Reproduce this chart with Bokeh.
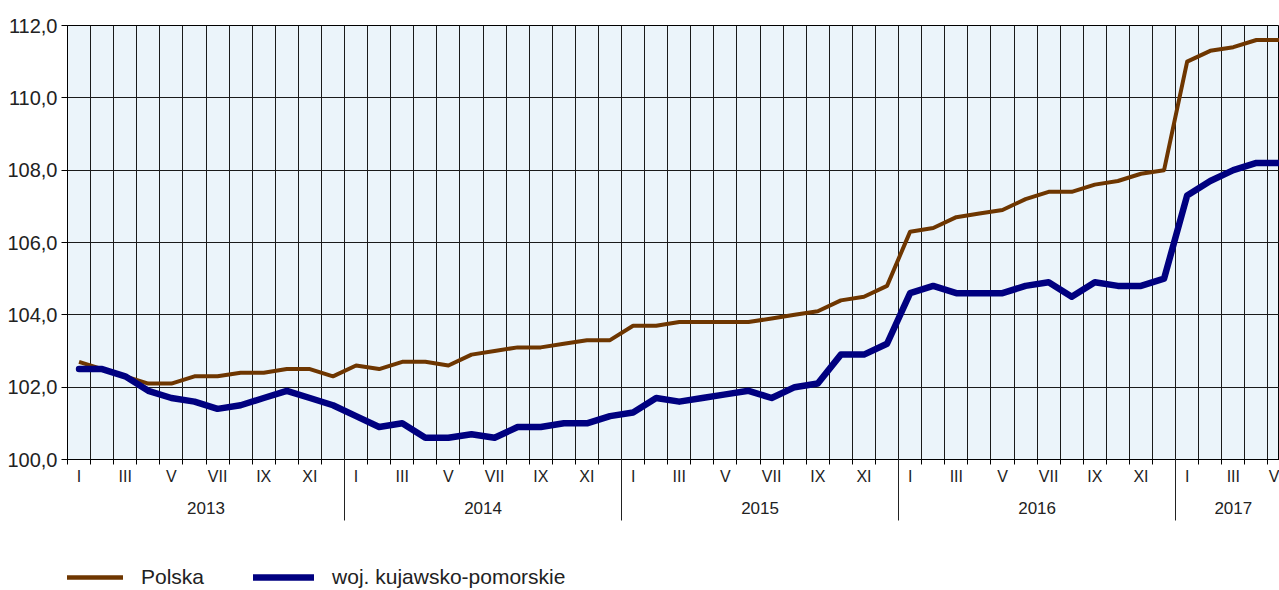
from bokeh.plotting import figure
from bokeh.layouts import column
from bokeh.models import (Range1d, FixedTicker, LinearAxis, Legend, LegendItem,
                          ColumnDataSource, Grid)
from bokeh.embed import file_html
from bokeh.resources import INLINE

# ---------------- data ----------------
years = ["2013", "2014", "2015", "2016", "2017"]
months_per_year = [12, 12, 12, 12, 5]
roman = ["I", "II", "III", "IV", "V", "VI", "VII", "VIII", "IX", "X", "XI", "XII"]

polska = [
    102.7, 102.5, 102.3, 102.1, 102.1, 102.3, 102.3, 102.4, 102.4, 102.5, 102.5, 102.3,
    102.6, 102.5, 102.7, 102.7, 102.6, 102.9, 103.0, 103.1, 103.1, 103.2, 103.3, 103.3,
    103.7, 103.7, 103.8, 103.8, 103.8, 103.8, 103.9, 104.0, 104.1, 104.4, 104.5, 104.8,
    106.3, 106.4, 106.7, 106.8, 106.9, 107.2, 107.4, 107.4, 107.6, 107.7, 107.9, 108.0,
    111.0, 111.3, 111.4, 111.6, 111.6,
]
kujawsko = [
    102.5, 102.5, 102.3, 101.9, 101.7, 101.6, 101.4, 101.5, 101.7, 101.9, 101.7, 101.5,
    101.2, 100.9, 101.0, 100.6, 100.6, 100.7, 100.6, 100.9, 100.9, 101.0, 101.0, 101.2,
    101.3, 101.7, 101.6, 101.7, 101.8, 101.9, 101.7, 102.0, 102.1, 102.9, 102.9, 103.2,
    104.6, 104.8, 104.6, 104.6, 104.6, 104.8, 104.9, 104.5, 104.9, 104.8, 104.8, 105.0,
    107.3, 107.7, 108.0, 108.2, 108.2,
]
y_ticks = [100, 102, 104, 106, 108, 110, 112]
series_names = ["Polska", "woj. kujawsko-pomorskie"]
series_colors = ["#6e3600", "#000080"]

# ---------------- derived positions ----------------
n = len(polska)
x = [i + 0.5 for i in range(n)]  # month centres
month_labels = {}
for yi, cnt in enumerate(months_per_year):
    start = sum(months_per_year[:yi])
    for m in range(0, cnt, 2):
        month_labels[start + m + 0.5] = roman[m]
year_bounds = [sum(months_per_year[:k]) for k in range(1, len(years))]
year_centres = {}
for yi, cnt in enumerate(months_per_year):
    start = sum(months_per_year[:yi])
    year_centres[start + cnt / 2] = years[yi]

FONT = "Liberation Sans"
TXT = "#222222"
GRID = "#1a1a1a"

p = figure(width=1279, height=540, output_backend="svg", toolbar_location=None,
           x_range=Range1d(0, n - 0.5), y_range=Range1d(100, 112),
           min_border_left=67, min_border_right=0, min_border_top=25,
           min_border_bottom=81, x_axis_type=None, y_axis_type=None)
p.background_fill_color = "#ebf4fa"
p.border_fill_color = "white"
p.outline_line_color = "black"
p.outline_line_width = 1

# y axis
yax = LinearAxis(ticker=FixedTicker(ticks=y_ticks),
                 major_label_overrides={v: f"{v:.1f}".replace(".", ",") for v in y_ticks})
yax.major_tick_out = 6
yax.major_tick_in = 0
yax.minor_tick_out = 0
yax.minor_tick_in = 0
yax.major_label_standoff = 4
yax.major_label_text_font = FONT
yax.major_label_text_font_size = "20px"
yax.major_label_text_color = TXT
yax.axis_line_color = "black"
yax.major_tick_line_color = "black"
p.add_layout(yax, "left")

# x axis 1: month labels + month ticks
xax = LinearAxis(ticker=FixedTicker(ticks=list(month_labels.keys()),
                                    minor_ticks=list(range(0, n))),
                 major_label_overrides=month_labels)
xax.major_tick_out = 0
xax.major_tick_in = 0
xax.minor_tick_out = 5
xax.minor_tick_in = 0
xax.minor_tick_line_color = "black"
xax.major_label_standoff = 3
xax.major_label_text_font = FONT
xax.major_label_text_font_size = "16px"
xax.major_label_text_color = TXT
xax.axis_line_color = "black"
p.add_layout(xax, "below")

# x axis 2: year labels
yrax = LinearAxis(ticker=FixedTicker(ticks=list(year_centres.keys())),
                  major_label_overrides=year_centres)
yrax.major_tick_out = 0
yrax.major_tick_in = 0
yrax.minor_tick_in = 0
yrax.minor_tick_out = 0
yrax.axis_line_color = None
yrax.major_label_standoff = 14
yrax.major_label_text_font = FONT
yrax.major_label_text_font_size = "17px"
yrax.major_label_text_color = TXT
p.add_layout(yrax, "below")

# x axis 3: year separators (ticks reaching up to the frame)
sepax = LinearAxis(ticker=FixedTicker(ticks=year_bounds),
                   major_label_overrides={b: "" for b in year_bounds})
sepax.major_tick_out = 4
sepax.major_tick_in = 58
sepax.minor_tick_in = 0
sepax.minor_tick_out = 0
sepax.major_tick_line_color = "#222222"
sepax.axis_line_color = None
sepax.major_label_standoff = 0
sepax.major_label_text_font = FONT
sepax.major_label_text_font_size = "10px"
p.add_layout(sepax, "below")

# grids
p.add_layout(Grid(dimension=0, ticker=FixedTicker(ticks=list(range(0, n))),
                  grid_line_color=GRID, grid_line_width=1))
p.add_layout(Grid(dimension=1, ticker=FixedTicker(ticks=y_ticks),
                  grid_line_color=GRID, grid_line_width=1))

src = ColumnDataSource(dict(x=x, polska=polska, kujawsko=kujawsko))
p.line("x", "polska", source=src, line_color=series_colors[0], line_width=4,
       line_join="round")
p.line("x", "kujawsko", source=src, line_color=series_colors[1], line_width=6.5,
       line_join="round", line_cap="round")

# ---------------- legend strip ----------------
# same series drawn through an out-of-view range; only their legend swatches show
lg = figure(width=1279, height=50, output_backend="svg", toolbar_location=None,
            x_range=Range1d(0, n - 0.5), y_range=Range1d(0, 1), min_border=0,
            x_axis_type=None, y_axis_type=None)
lg.outline_line_color = None
lg.grid.visible = False
lg.background_fill_color = "white"
l1 = lg.line("x", "polska", source=src, line_color=series_colors[0], line_width=4.5)
l2 = lg.line("x", "kujawsko", source=src, line_color=series_colors[1], line_width=6.5,
             line_cap="round")
legend = Legend(items=[LegendItem(label=series_names[0], renderers=[l1]),
                       LegendItem(label=series_names[1], renderers=[l2])],
                orientation="horizontal", location=(-5, 1),
                glyph_width=61, glyph_height=20, label_standoff=18, spacing=49,
                padding=0, margin=0, border_line_color=None,
                background_fill_alpha=0,
                label_text_font=FONT, label_text_font_size="21px",
                label_text_color=TXT)
lg.add_layout(legend)

open("out.html", "w").write(file_html(column(p, lg, spacing=0), INLINE))
